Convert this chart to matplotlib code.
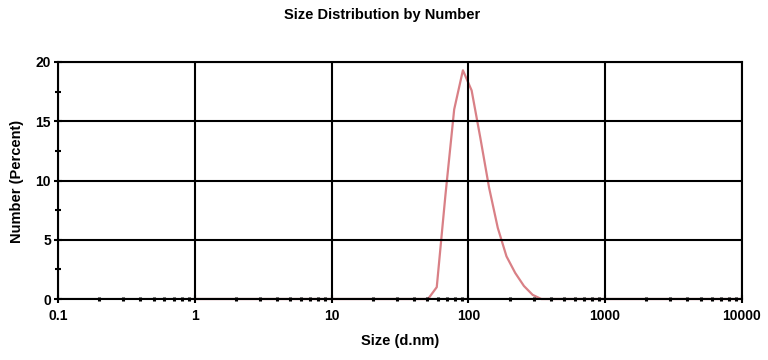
import matplotlib
matplotlib.use("Agg")
import matplotlib.pyplot as plt
from matplotlib.ticker import FixedLocator, NullFormatter

plt.rcParams['font.family'] = ['Liberation Sans', 'DejaVu Sans']

# size classes (d.nm) and number distribution (%)
size = [1.0, 10.0, 43.82, 50.75, 58.77, 68.06, 78.82, 91.28, 105.7, 122.4,
        141.8, 164.2, 190.1, 220.2, 255.0, 295.3, 342.0, 1000.0, 10000.0]
number = [0.0, 0.0, 0.0, 0.0, 1.0, 8.8, 16.0, 19.3, 17.6, 13.6,
          9.4, 6.0, 3.6, 2.2, 1.1, 0.35, 0.0, 0.0, 0.0]

x_ticks = [0.1, 1, 10, 100, 1000, 10000]
x_labels = ['0.1', '1', '10', '100', '1000', '10000']
y_ticks = [0, 5, 10, 15, 20]

fig = plt.figure(figsize=(7.68, 3.6), dpi=100)
ax = fig.add_axes([0.0755, 0.1694, 0.8905, 0.6584])

ax.set_xscale('log')
ax.set_xlim(0.1, 10000)
ax.set_ylim(0, 20)

ax.plot(size, number, color='#d98086', lw=1.6, zorder=1, clip_on=False)

ax.set_xticks(x_ticks)
ax.set_xticklabels(x_labels)
minors = [m * 10.0 ** d for d in range(-1, 4) for m in range(2, 10)]
ax.xaxis.set_minor_locator(FixedLocator(minors))
ax.xaxis.set_minor_formatter(NullFormatter())
ax.set_yticks(y_ticks)
ax.yaxis.set_minor_locator(FixedLocator([2.5, 7.5, 12.5, 17.5]))

ax.grid(True, which='major', color='black', lw=1.5, zorder=2)
ax.set_axisbelow(False)
for s in ax.spines.values():
    s.set_linewidth(1.5)
    s.set_zorder(3)

ax.tick_params(axis='x', which='major', direction='inout', length=6, width=1.5,
               labelsize=10, pad=4)
ax.tick_params(axis='x', which='minor', direction='inout', length=3, width=2.2)
ax.tick_params(axis='y', which='major', direction='inout', length=6, width=1.5,
               labelsize=10, pad=2)
ax.tick_params(axis='y', which='minor', direction='inout', length=5, width=1.5)
for lab in ax.get_xticklabels() + ax.get_yticklabels():
    lab.set_fontweight('bold')

fig.text(0.498, 0.958, 'Size Distribution by Number', ha='center', va='center',
         fontsize=10.5, fontweight='bold')
fig.text(0.521, 0.053, 'Size (d.nm)', ha='center', va='center',
         fontsize=10.5, fontweight='bold')
fig.text(0.022, 0.497, 'Number (Percent)', ha='center', va='center',
         rotation=90, fontsize=10.5, fontweight='bold')

fig.savefig('out.png', dpi=100)
